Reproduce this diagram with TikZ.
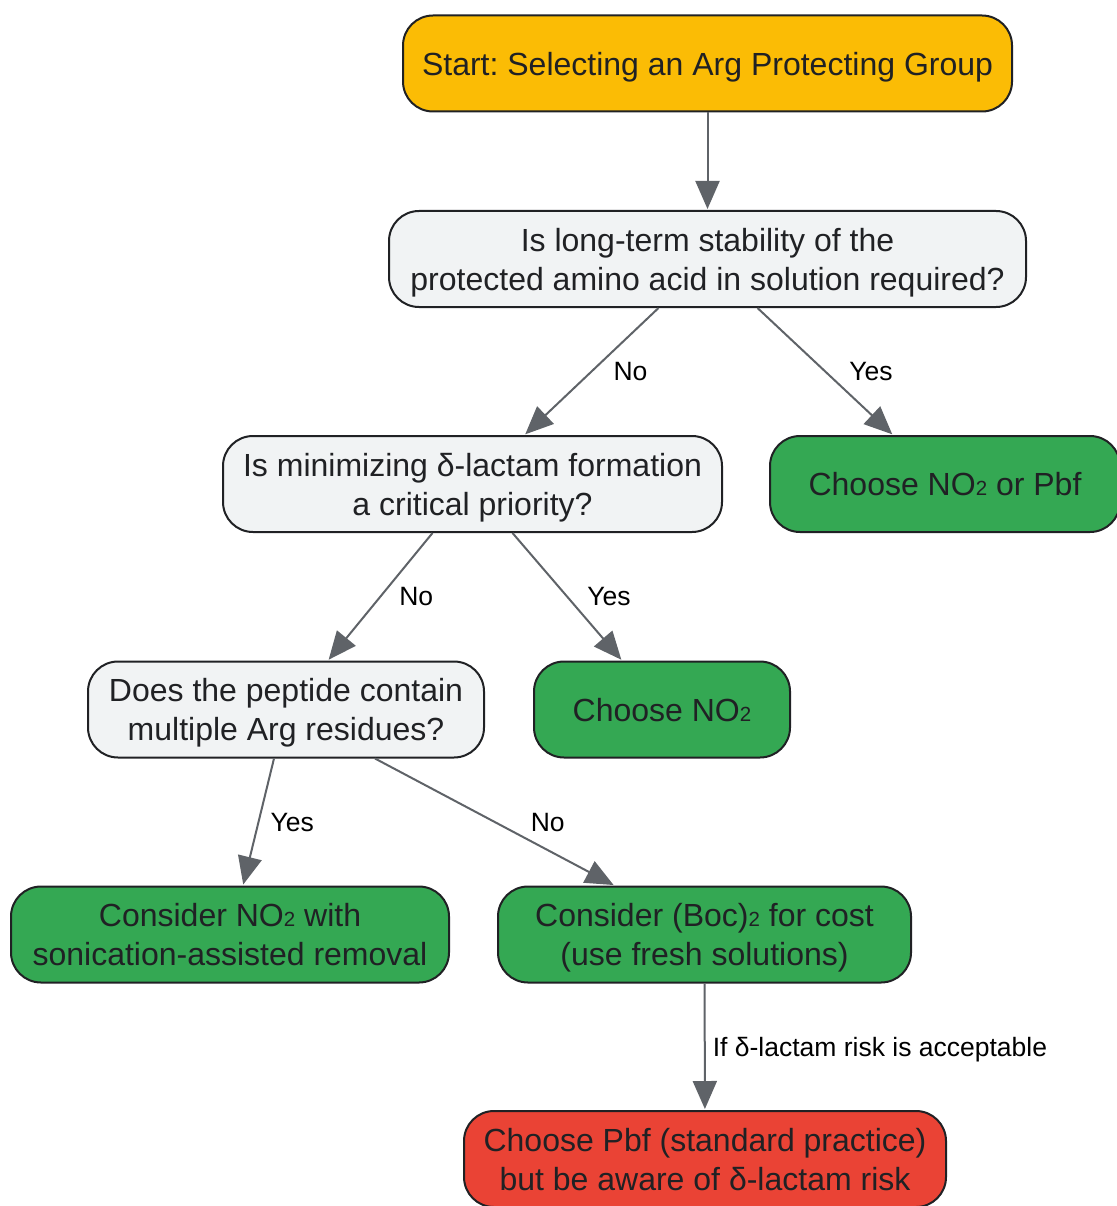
\documentclass[tikz,border=0pt]{standalone}
\usepackage{fontspec}
\setmainfont{Liberation Sans}
\usepackage[usenames,dvipsnames]{xcolor}
\usetikzlibrary{arrows.meta}
\frenchspacing

\definecolor{startcol}{HTML}{FBBC05}
\definecolor{askcol}{HTML}{F1F3F4}
\definecolor{goodcol}{HTML}{34A853}
\definecolor{riskcol}{HTML}{EA4335}
\definecolor{inkcol}{HTML}{202124}
\definecolor{edgecol}{HTML}{5F6368}
\newcommand{\subtwo}{\scalebox{0.64}{2}}

\begin{document}
\begin{tikzpicture}[x=1pt,y=-1pt]
    \tikzstyle{BoxStyle}=[rectangle, rounded corners=30pt, draw=inkcol, line width=2pt, text=inkcol, text depth=0pt,
                          align=center, minimum height=96pt, inner sep=0pt, font=\fontsize{32}{39}\selectfont]
    \tikzstyle{AskStyle}=[BoxStyle, fill=askcol]
    \tikzstyle{GoodStyle}=[BoxStyle, fill=goodcol]
    \tikzstyle{EdgeStyle}=[draw=edgecol, line width=2pt, shorten >=1pt, -{Triangle[length=28pt,width=24pt]}]
    \tikzstyle{LabelStyle}=[midway, anchor=west, inner sep=0pt, text depth=0pt, text=black, font=\fontsize{26.5}{30}\selectfont]
    \useasboundingbox (0,0) rectangle (1116,1206);
   % boxes
   \node[BoxStyle, fill=startcol, minimum width=609pt] (start) at (707.5,63.5) {Start: Selecting an Arg Protecting Group};
   \node[AskStyle, minimum width=637pt] (stable) at (707.5,259) {Is long-term stability of the\\protected amino acid in solution required?};
   \node[AskStyle, minimum width=499pt] (lactam) at (472.5,484) {Is minimizing δ-lactam formation\\a critical priority?};
   \node[GoodStyle, minimum width=350pt] (nopbf) at (945,484) {Choose NO\subtwo{} or Pbf};
   \node[AskStyle, minimum width=396pt] (multi) at (286,709.5) {Does the peptide contain\\multiple Arg residues?};
   \node[GoodStyle, minimum width=256pt] (nitro) at (662,709.5) {Choose NO\subtwo};
   \node[GoodStyle, minimum width=438pt] (sonic) at (230,934.5) {Consider NO\subtwo{} with\\sonication-assisted removal};
   \node[GoodStyle, minimum width=413pt] (boc) at (704.5,934.5) {Consider (Boc)\subtwo{} for cost\\(use fresh solutions)};
   \node[BoxStyle, fill=riskcol, minimum width=482pt] (pbf) at (705,1159) {Choose Pbf (standard practice)\\but be aware of δ-lactam risk};
   % edges
   \draw[EdgeStyle] (start) -- (stable);
   \draw[EdgeStyle] ([xshift=-49pt]stable.south) -- node[LabelStyle, xshift=21pt] {No} ([xshift=52pt]lactam.north);
   \draw[EdgeStyle] ([xshift=50pt]stable.south) -- node[LabelStyle, xshift=23pt] {Yes} ([xshift=-52pt]nopbf.north);
   \draw[EdgeStyle] ([xshift=-40pt]lactam.south) -- node[LabelStyle, xshift=18pt] {No} ([xshift=42pt]multi.north);
   \draw[EdgeStyle] ([xshift=40pt]lactam.south) -- node[LabelStyle, xshift=19pt] {Yes} ([xshift=-40pt]nitro.north);
   \draw[EdgeStyle] ([xshift=-12pt]multi.south) -- node[LabelStyle, xshift=11pt] {Yes} ([xshift=13pt]sonic.north);
   \draw[EdgeStyle] ([xshift=89pt]multi.south) -- node[LabelStyle, xshift=35pt] {No} ([xshift=-90pt]boc.north);
   \draw[EdgeStyle] (boc) -- node[LabelStyle, xshift=7pt] {If δ-lactam risk is acceptable} (pbf);
\end{tikzpicture}
\end{document}
